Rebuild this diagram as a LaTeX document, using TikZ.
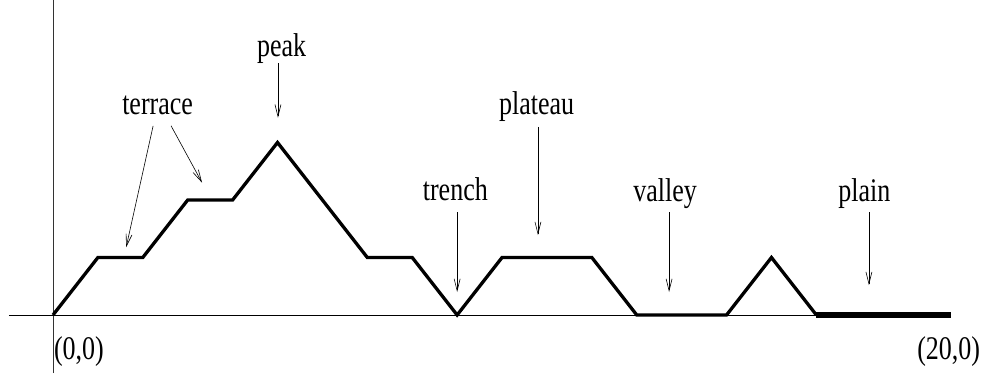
\documentclass[tikz,border=0pt]{standalone}
\usepackage{fontspec}
\setmainfont{Liberation Serif}
\usetikzlibrary{arrows.meta}

\begin{document}
\begin{tikzpicture}[x=44.9bp, y=57.5bp]
    % Define styles
    \tikzstyle{lbl}=[inner sep=0pt, anchor=base, yscale=1.27, font=\fontsize{26bp}{30bp}\selectfont]
    \tikzstyle{pointer}=[line width=0.6bp, -{Straight Barb[length=12bp, width=6bp]}]
    \tikzstyle{relief}=[line width=3.3bp, line join=miter]

    % Frame of the picture
    \useasboundingbox (-1.180, -1.009) rectangle (20.80, 5.478);

    % Axes
    \draw[line width=0.8bp, black!80] (0, -1.009) -- (0, 5.478);
    \draw[line width=0.8bp] (-0.98, 0) -- (20, 0);

    % Landscape profile
    \draw[relief] (0,0) -- (1,1) -- (2,1) -- (3,2) -- (4,2) -- (5,3) -- (7,1) -- (8,1)
        -- (9,0) -- (10,1) -- (12,1) -- (13,0) -- (15,0) -- (16,1) -- (17,0);
    \draw[line width=5.6bp] (17,0) -- (20,0);

    % Labels
    \node[lbl] (terrace) at (2.33, 3.48) {terrace};
    \node[lbl] (peak) at (5.09, 4.49) {peak};
    \node[lbl] (trench) at (8.96, 2.00) {trench};
    \node[lbl] (plateau) at (10.77, 3.48) {plateau};
    \node[lbl] (valley) at (13.63, 1.97) {valley};
    \node[lbl] (plain) at (18.07, 1.98) {plain};
    \node[lbl, anchor=base west] (origin) at (0.02, -0.765) {(0,0)};
    \node[lbl, anchor=base east] (end) at (20.65, -0.765) {(20,0)};

    % Arrow ends
    \coordinate (terrace-from1) at (2.23, 3.29);
    \coordinate (terrace-to1) at (1.63, 1.18);
    \coordinate (terrace-from2) at (2.63, 3.29);
    \coordinate (terrace-to2) at (3.32, 2.30);
    \coordinate (peak-from) at (5.01, 4.38);
    \coordinate (peak-to) at (5.01, 3.43);
    \coordinate (trench-from) at (9.00, 1.79);
    \coordinate (trench-to) at (9.00, 0.40);
    \coordinate (plateau-from) at (10.80, 3.27);
    \coordinate (plateau-to) at (10.80, 1.39);
    \coordinate (valley-from) at (13.72, 1.79);
    \coordinate (valley-to) at (13.72, 0.40);
    \coordinate (plain-from) at (18.17, 1.79);
    \coordinate (plain-to) at (18.17, 0.52);

    % Arrows
    \draw[pointer] (terrace-from1) -- (terrace-to1);
    \draw[pointer] (terrace-from2) -- (terrace-to2);
    \draw[pointer] (peak-from) -- (peak-to);
    \draw[pointer] (trench-from) -- (trench-to);
    \draw[pointer] (plateau-from) -- (plateau-to);
    \draw[pointer] (valley-from) -- (valley-to);
    \draw[pointer] (plain-from) -- (plain-to);

\end{tikzpicture}
\end{document}
